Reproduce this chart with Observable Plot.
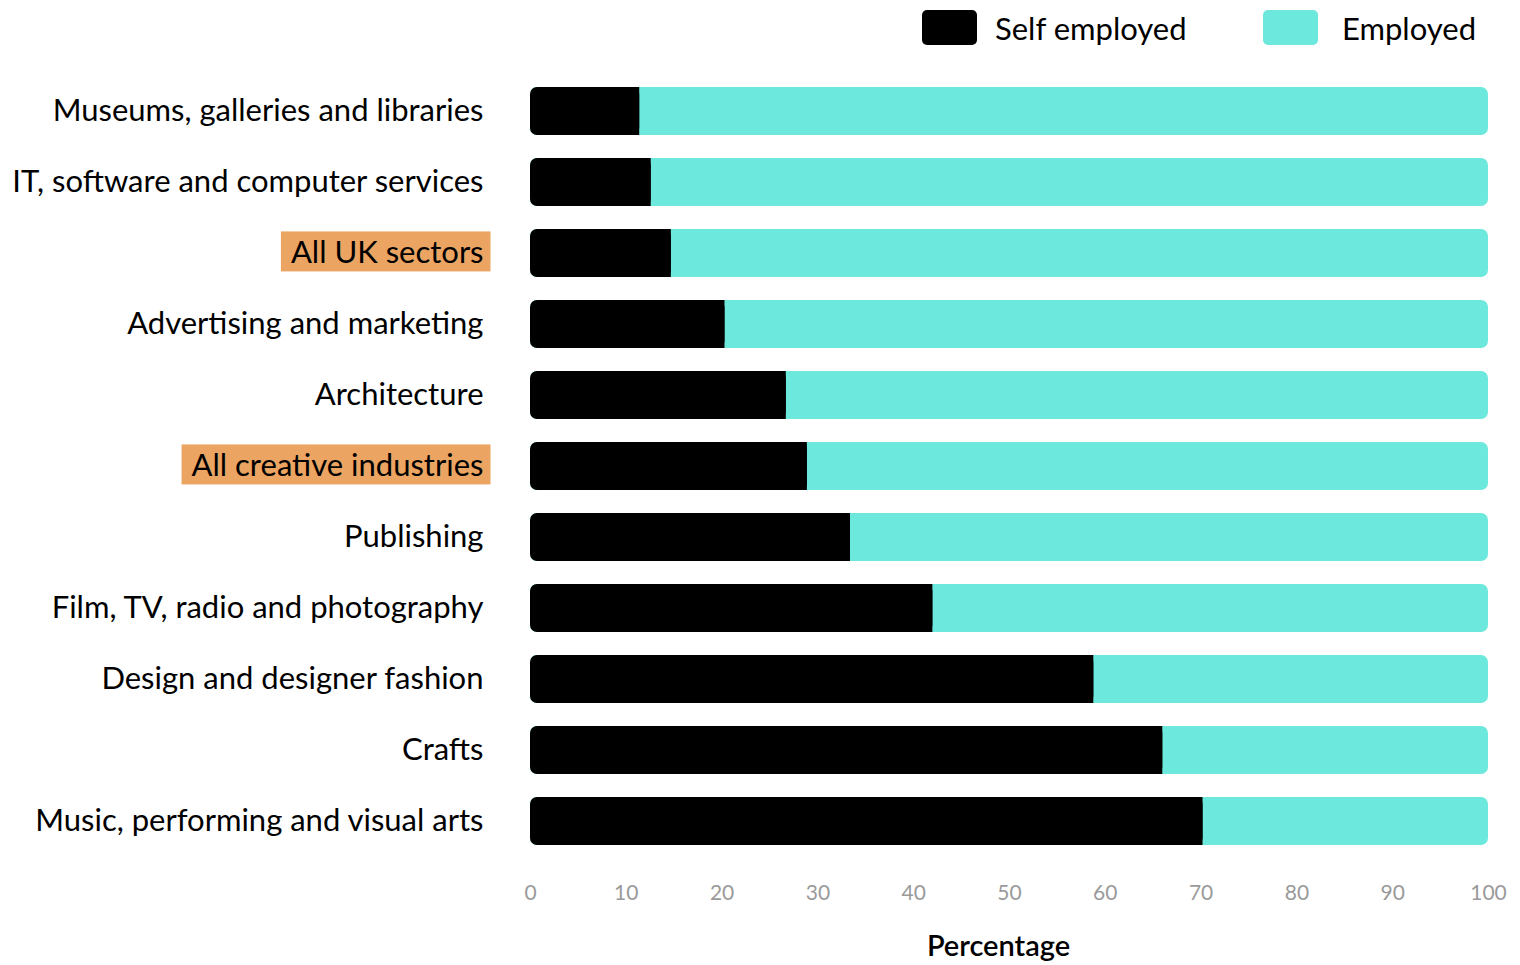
<!DOCTYPE html>
<html><head><meta charset="utf-8">
<script src="https://cdn.jsdelivr.net/npm/d3@7"></script>
<script src="https://cdn.jsdelivr.net/npm/@observablehq/plot@0.6"></script>
<style>
body{margin:0;background:#fff;font-family:Lato,"Open Sans",sans-serif;}
#legend{position:relative;width:1520px;height:60px;}
.sw{position:absolute;top:10px;width:55px;height:35px;border-radius:5px;}
.lt{position:absolute;top:8px;font-size:31px;color:#000;line-height:40px;}
#chart svg{display:block;}
</style></head>
<body>
<div id="legend"></div>
<div id="chart"></div>
<script>
const sectors = [
  "Museums, galleries and libraries",
  "IT, software and computer services",
  "All UK sectors",
  "Advertising and marketing",
  "Architecture",
  "All creative industries",
  "Publishing",
  "Film, TV, radio and photography",
  "Design and designer fashion",
  "Crafts",
  "Music, performing and visual arts"
];
const selfEmployed = [11.4, 12.6, 14.7, 20.3, 26.7, 28.9, 33.4, 42.0, 58.8, 66.0, 70.2];
const employed     = [88.6, 87.4, 85.3, 79.7, 73.3, 71.1, 66.6, 58.0, 41.2, 34.0, 29.8];
const highlighted = ["All UK sectors", "All creative industries"];
const xTicks = [0, 10, 20, 30, 40, 50, 60, 70, 80, 90, 100];
const seriesNames = ["Self employed", "Employed"];
const seriesColors = ["#000000", "#6de8dc"];

const rows = sectors.map((s, i) => ({sector: s, self: selfEmployed[i], emp: employed[i], total: selfEmployed[i] + employed[i]}));

// legend
const legend = document.getElementById("legend");
const swLeft = [922, 1263], txLeft = [995, 1342];
seriesNames.forEach((n, i) => {
  const sw = document.createElement("div");
  sw.className = "sw"; sw.style.left = swLeft[i] + "px"; sw.style.background = seriesColors[i];
  legend.appendChild(sw);
  const t = document.createElement("div");
  t.className = "lt"; t.style.left = txLeft[i] + "px"; t.textContent = n;
  legend.appendChild(t);
});

const chart = Plot.plot({
  width: 1520,
  height: 905,
  marginLeft: 530,
  marginRight: 32,
  marginTop: 3,
  marginBottom: 96,
  style: {fontFamily: "Lato, 'Open Sans', sans-serif", background: "#fff"},
  x: {domain: [0, 100]},
  y: {domain: sectors, padding: 0.324},
  marks: [
    Plot.barX(rows, {y: "sector", x1: 0, x2: "total", fill: seriesColors[1], rx: 7}),
    Plot.barX(rows, {y: "sector", x1: 0, x2: "self", fill: seriesColors[0], rx: 7}),
    Plot.barX(rows, {y: "sector", x1: d => d.self - 2, x2: "self", fill: seriesColors[0]}),
    Plot.axisX({ticks: xTicks, tickSize: 0, tickPadding: 16, fontSize: 21, color: "#9a9a9a", label: null}),
    Plot.axisY({tickSize: 0, tickPadding: 47, fontSize: 31, color: "#000", label: null}),
    Plot.text(["Percentage"], {frameAnchor: "bottom", dy: 86, dx: -11, fontSize: 29, fontWeight: 600, fill: "#000"})
  ]
});
document.getElementById("chart").appendChild(chart);

// highlight boxes behind selected y labels
requestAnimationFrame(() => {
  const texts = chart.querySelectorAll("text");
  texts.forEach(t => {
    if (highlighted.includes(t.textContent)) {
      const b = t.getBBox();
      const r = document.createElementNS("http://www.w3.org/2000/svg", "rect");
      const ctm = t.getAttribute("transform");
      r.setAttribute("x", b.x - 10);
      r.setAttribute("y", b.y - 1);
      r.setAttribute("width", b.width + 17);
      r.setAttribute("height", b.height + 2);
      r.setAttribute("fill", "#eba462");
      if (ctm) r.setAttribute("transform", ctm);
      t.parentNode.insertBefore(r, t);
    }
  });
});
</script>
</body></html>
